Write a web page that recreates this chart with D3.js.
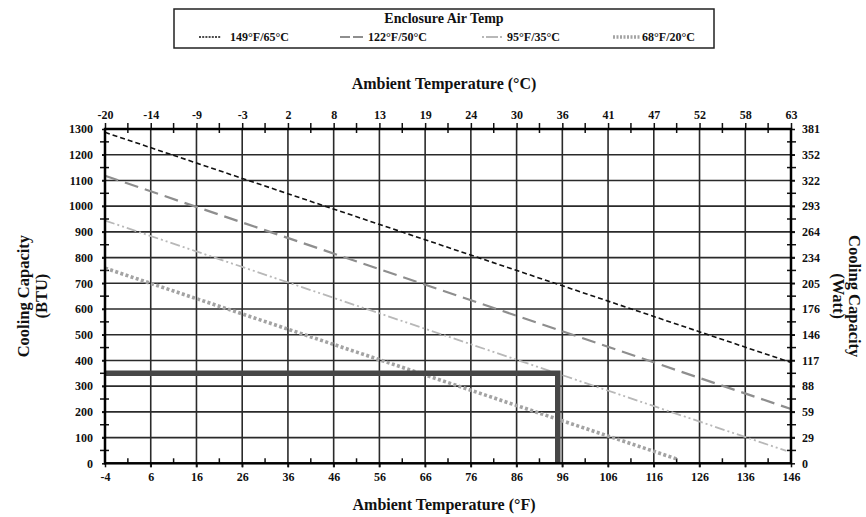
<!DOCTYPE html>
<html>
<head>
<meta charset="utf-8">
<script src="https://cdn.jsdelivr.net/npm/d3@7"></script>
<style>
  html, body { margin: 0; padding: 0; background: #fff; }
  svg { display: block; }
  text { font-family: "Liberation Serif", "DejaVu Serif", serif; font-weight: bold; fill: #111; }
</style>
</head>
<body>
<svg id="chart" width="866" height="517"></svg>
<script>
// ---------- DATA ----------
const fahrenheitTicks = [-4, 6, 16, 26, 36, 46, 56, 66, 76, 86, 96, 106, 116, 126, 136, 146];
const celsiusLabels = ["-20", "-14", "-9", "-3", "2", "8", "13", "19", "24", "30", "36", "41", "47", "52", "58", "63"];
const btuTicks = [0, 100, 200, 300, 400, 500, 600, 700, 800, 900, 1000, 1100, 1200, 1300];
const wattLabels = ["0", "29", "59", "88", "117", "146", "176", "205", "234", "264", "293", "322", "352", "381"];

const seriesNames = ["149°F/65°C", "122°F/50°C", "95°F/35°C", "68°F/20°C"];
// each series: ambient °F -> cooling capacity BTU
const series149F = [[-4, 1287], [146, 392]];
const series122F = [[-4, 1118], [146, 211]];
const series95F  = [[-4, 944], [145, 48]];
const series68F  = [[-4, 759], [121, 17]];
// operating point guide line
const operatingPoint = [[-4, 350], [95, 350], [95, 0]];

// ---------- LAYOUT ----------
const svg = d3.select("#chart");
const L = 105, R = 791, T = 129, B = 463.3;
const x = d3.scaleLinear().domain([-4, 146]).range([L, R]);
const y = d3.scaleLinear().domain([0, 1300]).range([B, T]);

const styles = [
  { stroke: "#111", width: 1.6, dash: "5,3" },
  { stroke: "#8e8e8e", width: 2.2, dash: "14,7" },
  { stroke: "#b8b8b8", width: 1.8, dash: "10,3,2,3,2,3" },
  { stroke: "#a3a3a3", width: 3.6, dash: "3,2.4" }
];
const allSeries = [series149F, series122F, series95F, series68F];

// gridlines
const grid = svg.append("g");
grid.selectAll("line.v").data(fahrenheitTicks.slice(1, -1)).join("line")
  .attr("x1", d => x(d)).attr("x2", d => x(d))
  .attr("y1", T).attr("y2", B + 4)
  .attr("stroke", "#2a2a2a").attr("stroke-width", 1.6);
grid.selectAll("line.h").data(btuTicks.slice(1, -1)).join("line")
  .attr("x1", L - 3).attr("x2", R + 4)
  .attr("y1", d => y(d)).attr("y2", d => y(d))
  .attr("stroke", "#2a2a2a").attr("stroke-width", 1.6);

// minor ticks
const minorF = fahrenheitTicks.slice(0, -1).map(d => d + 5);
const minorB = btuTicks.slice(0, -1).map(d => d + 50);
const mt = svg.append("g").attr("stroke", "#111").attr("stroke-width", 1.5);
mt.selectAll("line.tt").data(minorF).join("line")
  .attr("x1", d => x(d)).attr("x2", d => x(d)).attr("y1", T - 6).attr("y2", T + 4);
mt.selectAll("line.bt").data(minorF).join("line")
  .attr("x1", d => x(d)).attr("x2", d => x(d)).attr("y1", B - 5).attr("y2", B);
mt.selectAll("line.lt").data(minorB).join("line")
  .attr("y1", d => y(d)).attr("y2", d => y(d)).attr("x1", L - 5).attr("x2", L + 4);
mt.selectAll("line.rt").data(minorB).join("line")
  .attr("y1", d => y(d)).attr("y2", d => y(d)).attr("x1", R - 4).attr("x2", R + 5);

// axes via d3
const fmtAxis = g => {
  g.select(".domain").remove();
  g.selectAll(".tick line").attr("stroke", "#111").attr("stroke-width", 1.5);
  g.selectAll(".tick text").attr("font-size", 12).attr("font-family", "Liberation Serif, serif").attr("font-weight", "bold").attr("fill", "#111");
};
svg.append("g").attr("transform", `translate(0,${B})`)
  .call(d3.axisBottom(x).tickValues(fahrenheitTicks).tickSize(4).tickPadding(5).tickFormat(d => d))
  .call(fmtAxis);
svg.append("g").attr("transform", `translate(0,${T})`)
  .call(d3.axisTop(x).tickValues(fahrenheitTicks).tickSize(6).tickPadding(4).tickFormat((d, i) => celsiusLabels[i]))
  .call(fmtAxis);
svg.append("g").attr("transform", `translate(${L},0)`)
  .call(d3.axisLeft(y).tickValues(btuTicks).tickSize(3).tickPadding(9).tickFormat(d => d))
  .call(fmtAxis);
svg.append("g").attr("transform", `translate(${R},0)`)
  .call(d3.axisRight(y).tickValues(btuTicks).tickSize(4).tickPadding(7).tickFormat((d, i) => wattLabels[i]))
  .call(fmtAxis);

// series lines
const line = d3.line().x(d => x(d[0])).y(d => y(d[1]));
allSeries.forEach((s, i) => {
  svg.append("path").datum(s).attr("d", line)
    .attr("fill", "none").attr("stroke", styles[i].stroke)
    .attr("stroke-width", styles[i].width).attr("stroke-dasharray", styles[i].dash);
});

// operating point guide
svg.append("path").datum(operatingPoint).attr("d", line)
  .attr("fill", "none").attr("stroke", "#474747").attr("stroke-width", 5.5)
  .attr("stroke-linejoin", "miter");

// frame
svg.append("rect").attr("x", L).attr("y", T).attr("width", R - L).attr("height", B - T)
  .attr("fill", "none").attr("stroke", "#000").attr("stroke-width", 2.5);

// axis titles
svg.append("text").attr("x", 444).attr("y", 89).attr("text-anchor", "middle")
  .attr("font-size", 16).text("Ambient Temperature (°C)");
svg.append("text").attr("x", 444).attr("y", 510).attr("text-anchor", "middle")
  .attr("font-size", 16).text("Ambient Temperature (°F)");
const cy = (T + B) / 2;
const lt = svg.append("text").attr("transform", `translate(29,${cy}) rotate(-90)`)
  .attr("text-anchor", "middle").attr("font-size", 16.5);
lt.append("tspan").attr("x", 0).attr("dy", 0).text("Cooling Capacity");
lt.append("tspan").attr("x", 0).attr("dy", 18).text("(BTU)");
const rt = svg.append("text").attr("transform", `translate(849,${cy}) rotate(90)`)
  .attr("text-anchor", "middle").attr("font-size", 16.5);
rt.append("tspan").attr("x", 0).attr("dy", 0).text("Cooling Capacity");
rt.append("tspan").attr("x", 0).attr("dy", 16).text("(Watt)");

// legend
const lg = svg.append("g");
lg.append("rect").attr("x", 174).attr("y", 9).attr("width", 540).attr("height", 39)
  .attr("fill", "#fff").attr("stroke", "#222").attr("stroke-width", 1.5);
lg.append("text").attr("x", 444).attr("y", 23).attr("text-anchor", "middle")
  .attr("font-size", 14).text("Enclosure Air Temp");
const legendPos = [[199, 221, 230], [340, 363, 368], [482, 502, 507], [613, 640, 642]];
seriesNames.forEach((name, i) => {
  const p = legendPos[i];
  lg.append("line").attr("x1", p[0]).attr("x2", p[1]).attr("y1", 37).attr("y2", 37)
    .attr("stroke", styles[i].stroke).attr("stroke-width", styles[i].width)
    .attr("stroke-dasharray", i === 0 ? "2,1.2" : (i === 1 ? "10,3" : (i === 2 ? "2,2,12,2" : "2,1.5")));
  lg.append("text").attr("x", p[2]).attr("y", 41).attr("font-size", 12).text(name);
});
</script>
</body>
</html>
